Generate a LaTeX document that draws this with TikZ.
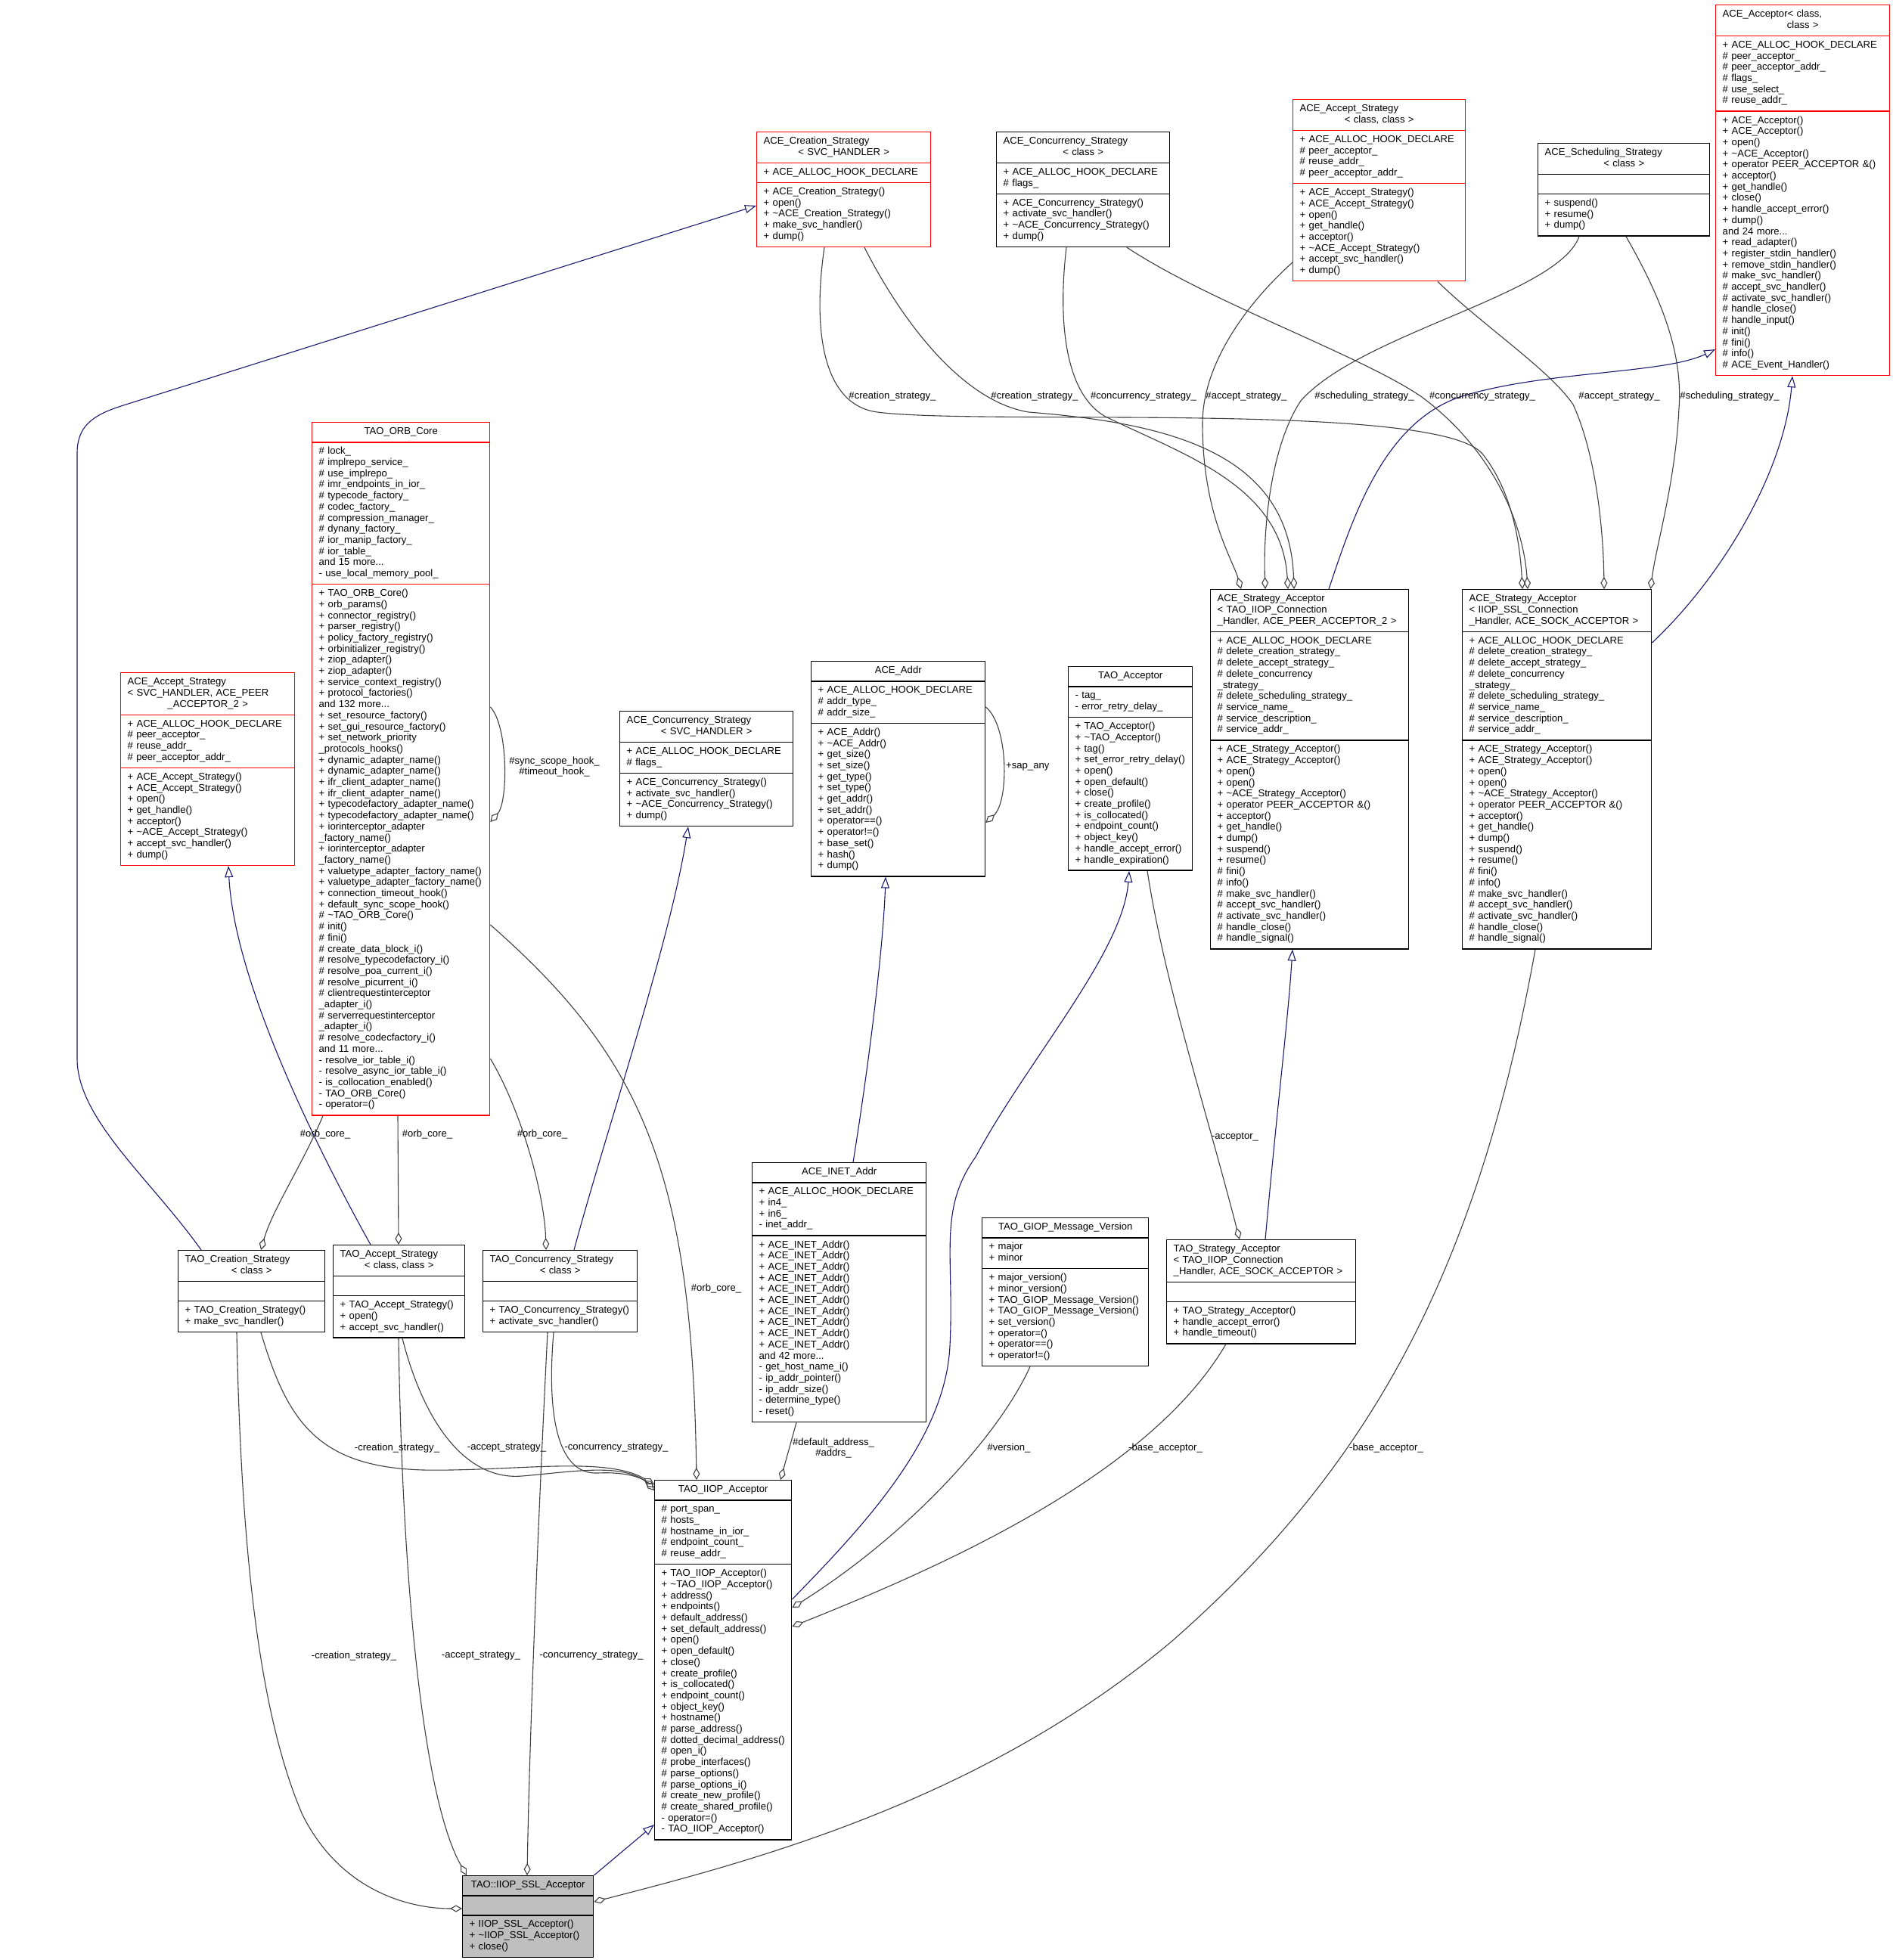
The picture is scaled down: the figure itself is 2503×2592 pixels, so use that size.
\documentclass[tikz,border=0pt]{standalone}
\usepackage{fontspec}
\setmainfont{Liberation Sans}
\usetikzlibrary{shapes.multipart,arrows.meta,calc}
\definecolor{navy}{HTML}{191970}
\definecolor{grey25}{HTML}{404040}
\definecolor{grey75}{HTML}{BFBFBF}
\newcommand\cf{\fontsize{13.1}{14.7}\selectfont}
\newcommand\Ln[1]{\mbox{\strut#1}}
\newcommand\Cn[1]{\leavevmode\mbox{}\hfill\strut#1\hfill\mbox{}}
\tikzset{
  cls/.style={rectangle split, rectangle split parts=3, draw=black, fill=white,
    line width=1.4pt, anchor=north west, inner xsep=9pt, inner ysep=5pt,
    text width=#1, align=left, font=\cf},
  redcls/.style={cls=#1, draw=red},
  usage/.style={draw=grey25, line width=1.1pt, -{Diamond[open,length=16pt,width=9pt]}},
  inherit/.style={draw=navy, line width=1.1pt, -{Triangle[open,length=15pt,width=11pt]}},
  lbl/.style={font=\cf, inner sep=0pt, align=center, text=black},
}
\catcode`\_=12
\begin{document}
\begin{tikzpicture}[x=1pt,y=-1pt]
\fill[white] (0,0) rectangle (2503,2592);
\useasboundingbox (0,0) rectangle (2503,2592);

% ---------------- classes ----------------
\node[redcls=212pt] (acc) at (2268,6) {\Ln{ACE_Acceptor< class,}\\\Cn{class >}%
\nodepart{two}\Ln{+ ACE_ALLOC_HOOK_DECLARE}\\\Ln{\# peer_acceptor_}\\\Ln{\# peer_acceptor_addr_}\\\Ln{\# flags_}\\\Ln{\# use_select_}\\\Ln{\# reuse_addr_}%
\nodepart{three}\Ln{+ ACE_Acceptor()}\\\Ln{+ ACE_Acceptor()}\\\Ln{+ open()}\\\Ln{+ \textasciitilde ACE_Acceptor()}\\\Ln{+ operator PEER_ACCEPTOR \&()}\\\Ln{+ acceptor()}\\\Ln{+ get_handle()}\\\Ln{+ close()}\\\Ln{+ handle_accept_error()}\\\Ln{+ dump()}\\\Ln{and 24 more...}\\\Ln{+ read_adapter()}\\\Ln{+ register_stdin_handler()}\\\Ln{+ remove_stdin_handler()}\\\Ln{\# make_svc_handler()}\\\Ln{\# accept_svc_handler()}\\\Ln{\# activate_svc_handler()}\\\Ln{\# handle_close()}\\\Ln{\# handle_input()}\\\Ln{\# init()}\\\Ln{\# fini()}\\\Ln{\# info()}\\\Ln{\# ACE_Event_Handler()}};

\node[redcls=212pt] (acs) at (1000,174) {\Ln{ACE_Creation_Strategy}\\\Cn{< SVC_HANDLER >}%
\nodepart{two}\Ln{+ ACE_ALLOC_HOOK_DECLARE}%
\nodepart{three}\Ln{+ ACE_Creation_Strategy()}\\\Ln{+ open()}\\\Ln{+ \textasciitilde ACE_Creation_Strategy()}\\\Ln{+ make_svc_handler()}\\\Ln{+ dump()}};

\node[cls=211pt] (acos) at (1317,174) {\Ln{ACE_Concurrency_Strategy}\\\Cn{< class >}%
\nodepart{two}\Ln{+ ACE_ALLOC_HOOK_DECLARE}\\\Ln{\# flags_}%
\nodepart{three}\Ln{+ ACE_Concurrency_Strategy()}\\\Ln{+ activate_svc_handler()}\\\Ln{+ \textasciitilde ACE_Concurrency_Strategy()}\\\Ln{+ dump()}};

\node[redcls=210pt] (aas) at (1709,131) {\Ln{ACE_Accept_Strategy}\\\Cn{< class, class >}%
\nodepart{two}\Ln{+ ACE_ALLOC_HOOK_DECLARE}\\\Ln{\# peer_acceptor_}\\\Ln{\# reuse_addr_}\\\Ln{\# peer_acceptor_addr_}%
\nodepart{three}\Ln{+ ACE_Accept_Strategy()}\\\Ln{+ ACE_Accept_Strategy()}\\\Ln{+ open()}\\\Ln{+ get_handle()}\\\Ln{+ acceptor()}\\\Ln{+ \textasciitilde ACE_Accept_Strategy()}\\\Ln{+ accept_svc_handler()}\\\Ln{+ dump()}};

\node[cls=209pt] (asch) at (2033,189) {\Ln{ACE_Scheduling_Strategy}\\\Cn{< class >}%
\nodepart{two}\Ln{}%
\nodepart{three}\Ln{+ suspend()}\\\Ln{+ resume()}\\\Ln{+ dump()}};

\node[redcls=217pt] (orb) at (412,558) {\Cn{TAO_ORB_Core}%
\nodepart{two}\Ln{\# lock_}\\\Ln{\# implrepo_service_}\\\Ln{\# use_implrepo_}\\\Ln{\# imr_endpoints_in_ior_}\\\Ln{\# typecode_factory_}\\\Ln{\# codec_factory_}\\\Ln{\# compression_manager_}\\\Ln{\# dynany_factory_}\\\Ln{\# ior_manip_factory_}\\\Ln{\# ior_table_}\\\Ln{and 15 more...}\\\Ln{- use_local_memory_pool_}%
\nodepart{three}\Ln{+ TAO_ORB_Core()}\\\Ln{+ orb_params()}\\\Ln{+ connector_registry()}\\\Ln{+ parser_registry()}\\\Ln{+ policy_factory_registry()}\\\Ln{+ orbinitializer_registry()}\\\Ln{+ ziop_adapter()}\\\Ln{+ ziop_adapter()}\\\Ln{+ service_context_registry()}\\\Ln{+ protocol_factories()}\\\Ln{and 132 more...}\\\Ln{+ set_resource_factory()}\\\Ln{+ set_gui_resource_factory()}\\\Ln{+ set_network_priority}\\\Ln{_protocols_hooks()}\\\Ln{+ dynamic_adapter_name()}\\\Ln{+ dynamic_adapter_name()}\\\Ln{+ ifr_client_adapter_name()}\\\Ln{+ ifr_client_adapter_name()}\\\Ln{+ typecodefactory_adapter_name()}\\\Ln{+ typecodefactory_adapter_name()}\\\Ln{+ iorinterceptor_adapter}\\\Ln{_factory_name()}\\\Ln{+ iorinterceptor_adapter}\\\Ln{_factory_name()}\\\Ln{+ valuetype_adapter_factory_name()}\\\Ln{+ valuetype_adapter_factory_name()}\\\Ln{+ connection_timeout_hook()}\\\Ln{+ default_sync_scope_hook()}\\\Ln{\# \textasciitilde TAO_ORB_Core()}\\\Ln{\# init()}\\\Ln{\# fini()}\\\Ln{\# create_data_block_i()}\\\Ln{\# resolve_typecodefactory_i()}\\\Ln{\# resolve_poa_current_i()}\\\Ln{\# resolve_picurrent_i()}\\\Ln{\# clientrequestinterceptor}\\\Ln{_adapter_i()}\\\Ln{\# serverrequestinterceptor}\\\Ln{_adapter_i()}\\\Ln{\# resolve_codecfactory_i()}\\\Ln{and 11 more...}\\\Ln{- resolve_ior_table_i()}\\\Ln{- resolve_async_ior_table_i()}\\\Ln{- is_collocation_enabled()}\\\Ln{- TAO_ORB_Core()}\\\Ln{- operator=()}};

\node[redcls=212pt] (aas2) at (159,889) {\Ln{ACE_Accept_Strategy}\\\Ln{< SVC_HANDLER, ACE_PEER}\\\Cn{_ACCEPTOR_2 >}%
\nodepart{two}\Ln{+ ACE_ALLOC_HOOK_DECLARE}\\\Ln{\# peer_acceptor_}\\\Ln{\# reuse_addr_}\\\Ln{\# peer_acceptor_addr_}%
\nodepart{three}\Ln{+ ACE_Accept_Strategy()}\\\Ln{+ ACE_Accept_Strategy()}\\\Ln{+ open()}\\\Ln{+ get_handle()}\\\Ln{+ acceptor()}\\\Ln{+ \textasciitilde ACE_Accept_Strategy()}\\\Ln{+ accept_svc_handler()}\\\Ln{+ dump()}};

\node[cls=211pt] (acos2) at (819,940) {\Ln{ACE_Concurrency_Strategy}\\\Cn{< SVC_HANDLER >}%
\nodepart{two}\Ln{+ ACE_ALLOC_HOOK_DECLARE}\\\Ln{\# flags_}%
\nodepart{three}\Ln{+ ACE_Concurrency_Strategy()}\\\Ln{+ activate_svc_handler()}\\\Ln{+ \textasciitilde ACE_Concurrency_Strategy()}\\\Ln{+ dump()}};

\node[cls=212pt] (addr) at (1072,874) {\Cn{ACE_Addr}%
\nodepart{two}\Ln{+ ACE_ALLOC_HOOK_DECLARE}\\\Ln{\# addr_type_}\\\Ln{\# addr_size_}%
\nodepart{three}\Ln{+ ACE_Addr()}\\\Ln{+ \textasciitilde ACE_Addr()}\\\Ln{+ get_size()}\\\Ln{+ set_size()}\\\Ln{+ get_type()}\\\Ln{+ set_type()}\\\Ln{+ get_addr()}\\\Ln{+ set_addr()}\\\Ln{+ operator==()}\\\Ln{+ operator!=()}\\\Ln{+ base_set()}\\\Ln{+ hash()}\\\Ln{+ dump()}};

\node[cls=146pt] (tacc) at (1412,881) {\Cn{TAO_Acceptor}%
\nodepart{two}\Ln{- tag_}\\\Ln{- error_retry_delay_}%
\nodepart{three}\Ln{+ TAO_Acceptor()}\\\Ln{+ \textasciitilde TAO_Acceptor()}\\\Ln{+ tag()}\\\Ln{+ set_error_retry_delay()}\\\Ln{+ open()}\\\Ln{+ open_default()}\\\Ln{+ close()}\\\Ln{+ create_profile()}\\\Ln{+ is_collocated()}\\\Ln{+ endpoint_count()}\\\Ln{+ object_key()}\\\Ln{+ handle_accept_error()}\\\Ln{+ handle_expiration()}};

\node[cls=244pt] (asa1) at (1600,779) {\Ln{ACE_Strategy_Acceptor}\\\Ln{< TAO_IIOP_Connection}\\\Ln{_Handler, ACE_PEER_ACCEPTOR_2 >}%
\nodepart{two}\Ln{+ ACE_ALLOC_HOOK_DECLARE}\\\Ln{\# delete_creation_strategy_}\\\Ln{\# delete_accept_strategy_}\\\Ln{\# delete_concurrency}\\\Ln{_strategy_}\\\Ln{\# delete_scheduling_strategy_}\\\Ln{\# service_name_}\\\Ln{\# service_description_}\\\Ln{\# service_addr_}%
\nodepart{three}\Ln{+ ACE_Strategy_Acceptor()}\\\Ln{+ ACE_Strategy_Acceptor()}\\\Ln{+ open()}\\\Ln{+ open()}\\\Ln{+ \textasciitilde ACE_Strategy_Acceptor()}\\\Ln{+ operator PEER_ACCEPTOR \&()}\\\Ln{+ acceptor()}\\\Ln{+ get_handle()}\\\Ln{+ dump()}\\\Ln{+ suspend()}\\\Ln{+ resume()}\\\Ln{\# fini()}\\\Ln{\# info()}\\\Ln{\# make_svc_handler()}\\\Ln{\# accept_svc_handler()}\\\Ln{\# activate_svc_handler()}\\\Ln{\# handle_close()}\\\Ln{\# handle_signal()}};

\node[cls=232pt] (asa2) at (1933,779) {\Ln{ACE_Strategy_Acceptor}\\\Ln{< IIOP_SSL_Connection}\\\Ln{_Handler, ACE_SOCK_ACCEPTOR >}%
\nodepart{two}\Ln{+ ACE_ALLOC_HOOK_DECLARE}\\\Ln{\# delete_creation_strategy_}\\\Ln{\# delete_accept_strategy_}\\\Ln{\# delete_concurrency}\\\Ln{_strategy_}\\\Ln{\# delete_scheduling_strategy_}\\\Ln{\# service_name_}\\\Ln{\# service_description_}\\\Ln{\# service_addr_}%
\nodepart{three}\Ln{+ ACE_Strategy_Acceptor()}\\\Ln{+ ACE_Strategy_Acceptor()}\\\Ln{+ open()}\\\Ln{+ open()}\\\Ln{+ \textasciitilde ACE_Strategy_Acceptor()}\\\Ln{+ operator PEER_ACCEPTOR \&()}\\\Ln{+ acceptor()}\\\Ln{+ get_handle()}\\\Ln{+ dump()}\\\Ln{+ suspend()}\\\Ln{+ resume()}\\\Ln{\# fini()}\\\Ln{\# info()}\\\Ln{\# make_svc_handler()}\\\Ln{\# accept_svc_handler()}\\\Ln{\# activate_svc_handler()}\\\Ln{\# handle_close()}\\\Ln{\# handle_signal()}};

\node[cls=212pt] (inet) at (994,1537) {\Cn{ACE_INET_Addr}%
\nodepart{two}\Ln{+ ACE_ALLOC_HOOK_DECLARE}\\\Ln{+ in4_}\\\Ln{+ in6_}\\\Ln{- inet_addr_}%
\nodepart{three}\Ln{+ ACE_INET_Addr()}\\\Ln{+ ACE_INET_Addr()}\\\Ln{+ ACE_INET_Addr()}\\\Ln{+ ACE_INET_Addr()}\\\Ln{+ ACE_INET_Addr()}\\\Ln{+ ACE_INET_Addr()}\\\Ln{+ ACE_INET_Addr()}\\\Ln{+ ACE_INET_Addr()}\\\Ln{+ ACE_INET_Addr()}\\\Ln{+ ACE_INET_Addr()}\\\Ln{and 42 more...}\\\Ln{- get_host_name_i()}\\\Ln{- ip_addr_pointer()}\\\Ln{- ip_addr_size()}\\\Ln{- determine_type()}\\\Ln{- reset()}};

\node[cls=202pt] (giop) at (1298,1610) {\Cn{TAO_GIOP_Message_Version}%
\nodepart{two}\Ln{+ major}\\\Ln{+ minor}%
\nodepart{three}\Ln{+ major_version()}\\\Ln{+ minor_version()}\\\Ln{+ TAO_GIOP_Message_Version()}\\\Ln{+ TAO_GIOP_Message_Version()}\\\Ln{+ set_version()}\\\Ln{+ operator=()}\\\Ln{+ operator==()}\\\Ln{+ operator!=()}};

\node[cls=232pt] (tsa) at (1542,1639) {\Ln{TAO_Strategy_Acceptor}\\\Ln{< TAO_IIOP_Connection}\\\Ln{_Handler, ACE_SOCK_ACCEPTOR >}%
\nodepart{two}\Ln{}%
\nodepart{three}\Ln{+ TAO_Strategy_Acceptor()}\\\Ln{+ handle_accept_error()}\\\Ln{+ handle_timeout()}};

\node[cls=176pt] (tcs) at (235,1653) {\Ln{TAO_Creation_Strategy}\\\Cn{< class >}%
\nodepart{two}\Ln{}%
\nodepart{three}\Ln{+ TAO_Creation_Strategy()}\\\Ln{+ make_svc_handler()}};

\node[cls=156pt] (tas) at (440,1646) {\Ln{TAO_Accept_Strategy}\\\Cn{< class, class >}%
\nodepart{two}\Ln{}%
\nodepart{three}\Ln{+ TAO_Accept_Strategy()}\\\Ln{+ open()}\\\Ln{+ accept_svc_handler()}};

\node[cls=186pt] (tcos) at (638,1653) {\Ln{TAO_Concurrency_Strategy}\\\Cn{< class >}%
\nodepart{two}\Ln{}%
\nodepart{three}\Ln{+ TAO_Concurrency_Strategy()}\\\Ln{+ activate_svc_handler()}};

\node[cls=163pt] (iiop) at (865,1957) {\Cn{TAO_IIOP_Acceptor}%
\nodepart{two}\Ln{\# port_span_}\\\Ln{\# hosts_}\\\Ln{\# hostname_in_ior_}\\\Ln{\# endpoint_count_}\\\Ln{\# reuse_addr_}%
\nodepart{three}\Ln{+ TAO_IIOP_Acceptor()}\\\Ln{+ \textasciitilde TAO_IIOP_Acceptor()}\\\Ln{+ address()}\\\Ln{+ endpoints()}\\\Ln{+ default_address()}\\\Ln{+ set_default_address()}\\\Ln{+ open()}\\\Ln{+ open_default()}\\\Ln{+ close()}\\\Ln{+ create_profile()}\\\Ln{+ is_collocated()}\\\Ln{+ endpoint_count()}\\\Ln{+ object_key()}\\\Ln{+ hostname()}\\\Ln{\# parse_address()}\\\Ln{\# dotted_decimal_address()}\\\Ln{\# open_i()}\\\Ln{\# probe_interfaces()}\\\Ln{\# parse_options()}\\\Ln{\# parse_options_i()}\\\Ln{\# create_new_profile()}\\\Ln{\# create_shared_profile()}\\\Ln{- operator=()}\\\Ln{- TAO_IIOP_Acceptor()}};

\node[cls=155pt, fill=grey75] (ssl) at (611,2480) {\Cn{TAO::IIOP_SSL_Acceptor}%
\nodepart{two}\Ln{}%
\nodepart{three}\Ln{+ IIOP_SSL_Acceptor()}\\\Ln{+ \textasciitilde IIOP_SSL_Acceptor()}\\\Ln{+ close()}};

% ---------------- inheritance ----------------
\draw[inherit] ($(tcs.north west)+(31,0)$) .. controls (200,1560) and (102,1480) .. (102,1400) -- (102,600) .. controls (102,565) and (120,550) .. (160,537) -- ($(acs.north west)+(0,98)$);
\draw[inherit] ($(tas.north west)+(50,0)$) .. controls (420,1520) and (310,1300) .. ($(aas2.south west)+(143,0)$);
\draw[inherit] ($(tcos.north west)+(121,0)$) .. controls (800,1500) and (885,1250) .. ($(acos2.south west)+(91,0)$);
\draw[inherit] ($(inet.north west)+(134,0)$) .. controls (1150,1400) and (1168,1250) .. ($(addr.south west)+(99,0)$);
\draw[inherit] ($(iiop.north east)+(0,158)$) .. controls (1150,2010) and (1250,1900) .. (1256,1780) .. controls (1262,1660) and (1240,1600) .. (1290,1530) .. controls (1360,1400) and (1485,1260) .. ($(tacc.south west)+(81,0)$);
\draw[inherit] ($(tsa.north west)+(131,0)$) .. controls (1690,1450) and (1703,1350) .. ($(asa1.south west)+(109,0)$);
\draw[inherit] ($(asa1.north west)+(157,0)$) .. controls (1790,680) and (1830,560) .. (1930,525) .. controls (2040,490) and (2200,495) .. ($(acc.north west)+(0,456)$);
\draw[inherit] ($(asa2.north east)+(0,71)$) .. controls (2280,760) and (2360,620) .. ($(acc.south west)+(102,0)$);
\draw[inherit] (ssl.north east) -- ($(iiop.north west)+(0,456)$);

% ---------------- usage ----------------
\draw[usage] ($(tcs.south west)+(110,0)$) .. controls (380,1880) and (420,1940) .. (560,1944) .. controls (680,1946) and (800,1925) .. ($(iiop.north west)+(0,6)$);
\draw[usage] ($(tas.south west)+(92,0)$) .. controls (560,1880) and (615,1958) .. (690,1952) .. controls (760,1946) and (820,1935) .. ($(iiop.north west)+(0,10)$);
\draw[usage] ($(tcos.south west)+(94,0)$) .. controls (722,1880) and (740,1950) .. (790,1948) .. controls (830,1946) and (850,1955) .. ($(iiop.north west)+(0,14)$);
\draw[usage] ($(tcs.south west)+(78,0)$) .. controls (318,2000) and (335,2250) .. (400,2400) .. controls (450,2500) and (540,2524) .. ($(ssl.north west)+(0,44)$);
\draw[usage] ($(tas.south west)+(87,0)$) .. controls (532,2100) and (560,2380) .. ($(ssl.north west)+(6,0)$);
\draw[usage] ($(tcos.south west)+(86,0)$) .. controls (712,2000) and (700,2300) .. ($(ssl.north west)+(86,0)$);
\draw[usage] ($(asa2.south west)+(97,0)$) .. controls (1950,1700) and (1800,1950) .. (1550,2170) .. controls (1300,2380) and (1000,2460) .. ($(ssl.north east)+(0,35)$);
\draw[usage] ($(tsa.south west)+(79,0)$) .. controls (1520,1950) and (1250,2070) .. ($(iiop.north east)+(0,194)$);
\draw[usage] ($(giop.south west)+(64,0)$) .. controls (1320,1900) and (1200,2030) .. ($(iiop.north east)+(0,169)$);
\draw[usage] ($(orb.south west)+(15,0)$) .. controls (400,1540) and (360,1600) .. ($(tcs.north west)+(110,0)$);
\draw[usage] ($(orb.south west)+(114,0)$) -- ($(tas.north west)+(87,0)$);
\draw[usage] ($(orb.north east)+(0,842)$) .. controls (690,1470) and (720,1580) .. ($(tcos.north west)+(84,0)$);
\draw[usage] ($(orb.north east)+(0,665)$) .. controls (850,1400) and (915,1550) .. ($(iiop.north west)+(56,0)$);
\draw[usage] ($(inet.south west)+(59,0)$) -- ($(iiop.north west)+(167,0)$);
\draw[usage] ($(tacc.south west)+(105,0)$) .. controls (1540,1300) and (1590,1450) .. ($(tsa.north west)+(97,0)$);
\draw[usage] ($(orb.north east)+(0,377)$) .. controls (672,960) and (672,1060) .. ($(orb.north east)+(0,529)$);
\draw[usage] ($(addr.north east)+(0,61)$) .. controls (1334,960) and (1334,1060) .. ($(addr.north east)+(0,214)$);
\draw[usage] ($(acs.south west)+(90,0)$) .. controls (1075,430) and (1085,535) .. (1160,545) .. controls (1300,563) and (1900,530) .. (1960,600) .. controls (2000,650) and (2010,720) .. ($(asa2.north west)+(80,0)$);
\draw[usage] ($(acs.south west)+(143,0)$) .. controls (1190,420) and (1270,530) .. (1360,545) .. controls (1550,560) and (1705,600) .. ($(asa1.north west)+(111,0)$);
\draw[usage] ($(acos.south west)+(93,0)$) .. controls (1398,430) and (1410,520) .. (1460,550) .. controls (1560,600) and (1695,640) .. ($(asa1.north west)+(103,0)$);
\draw[usage] ($(acos.south west)+(173,0)$) .. controls (1600,400) and (1800,470) .. (1880,525) .. controls (1980,600) and (2015,700) .. ($(asa2.north west)+(87,0)$);
\draw[usage] ($(aas.north west)+(0,216)$) .. controls (1650,400) and (1590,480) .. (1590,560) .. controls (1590,680) and (1630,740) .. ($(asa1.north west)+(41,0)$);
\draw[usage] ($(aas.south west)+(192,0)$) .. controls (1960,430) and (2050,490) .. (2080,535) .. controls (2110,600) and (2120,700) .. ($(asa2.north west)+(188,0)$);
\draw[usage] ($(asch.south west)+(55,0)$) .. controls (2060,390) and (1800,440) .. (1720,530) .. controls (1680,590) and (1670,700) .. ($(asa1.north west)+(73,0)$);
\draw[usage] ($(asch.south west)+(117,0)$) .. controls (2200,400) and (2225,470) .. (2220,540) .. controls (2215,640) and (2190,720) .. ($(asa2.north east)+(-2,0)$);

% ---------------- labels ----------------
\node[lbl] (l1) at (1180,524) {\#creation_strategy_};
\node[lbl] (l2) at (1368,524) {\#creation_strategy_};
\node[lbl] (l3) at (1512,524) {\#concurrency_strategy_};
\node[lbl] (l4) at (1648,524) {\#accept_strategy_};
\node[lbl] (l5) at (1804,524) {\#scheduling_strategy_};
\node[lbl] (l6) at (1960,524) {\#concurrency_strategy_};
\node[lbl] (l7) at (2141,524) {\#accept_strategy_};
\node[lbl] (l8) at (2287,524) {\#scheduling_strategy_};
\node[lbl] (l9) at (733,1014) {\#sync_scope_hook_\\\#timeout_hook_};
\node[lbl, anchor=west] (l10) at (1330,1014) {+sap_any};
\node[lbl] (l11) at (430,1500) {\#orb_core_};
\node[lbl] (l12) at (565,1500) {\#orb_core_};
\node[lbl] (l13) at (717,1500) {\#orb_core_};
\node[lbl] (l14) at (947,1704) {\#orb_core_};
\node[lbl] (l15) at (1633,1504) {-acceptor_};
\node[lbl] (l16) at (525,1915) {-creation_strategy_};
\node[lbl] (l17) at (670,1915) {-accept_strategy_};
\node[lbl] (l18) at (815,1915) {-concurrency_strategy_};
\node[lbl] (l19) at (1102,1915) {\#default_address_\\\#addrs_};
\node[lbl] (l20) at (1334,1915) {\#version_};
\node[lbl] (l21) at (1541,1915) {-base_acceptor_};
\node[lbl] (l22) at (1833,1915) {-base_acceptor_};
\node[lbl] (l23) at (468,2190) {-creation_strategy_};
\node[lbl] (l24) at (636,2190) {-accept_strategy_};
\node[lbl] (l25) at (782,2190) {-concurrency_strategy_};
\end{tikzpicture}
\end{document}
